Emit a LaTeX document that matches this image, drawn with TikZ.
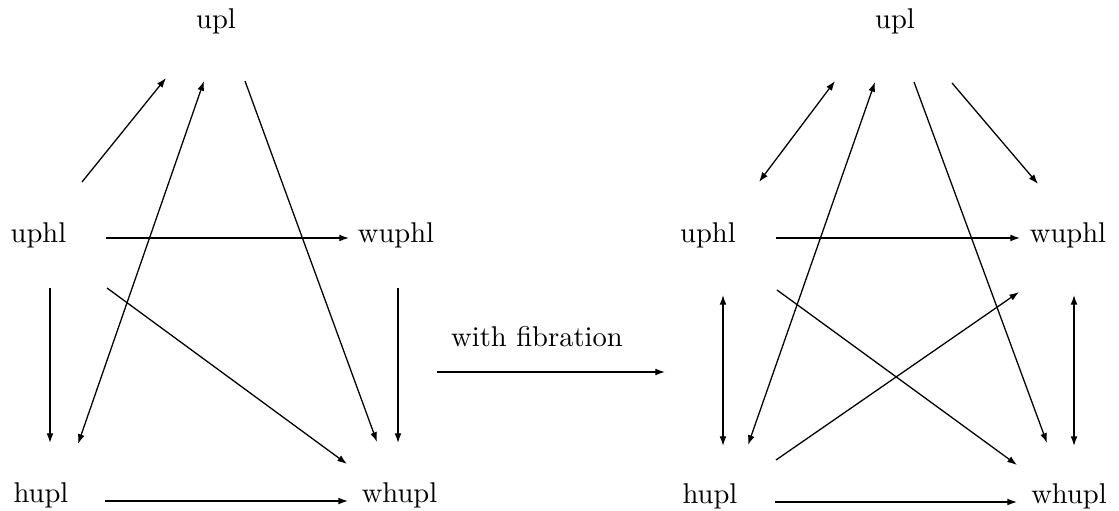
\documentclass[tikz,border=0pt]{standalone}
\usetikzlibrary{arrows.meta}
\begin{document}
\begin{tikzpicture}[x=0.35pt,y=-0.35pt,
  lab/.style={anchor=base,inner sep=0pt,font=\normalsize},
  ar/.style={line width=0.45pt,-{Latex[length=3.4pt,width=2.4pt]}},
  dar/.style={line width=0.45pt,{Latex[length=3.4pt,width=2.4pt]}-{Latex[length=3.4pt,width=2.4pt]}}]
\useasboundingbox (0,0) rectangle (1119,511);

% objects of the left square
\node[lab] (Lupl)   at (216,29)  {upl};
\node[lab] (Luphl)  at (38.5,243) {uphl};
\node[lab] (Lwuphl) at (396,243) {wuphl};
\node[lab] (Lhupl)  at (41,503)  {hupl};
\node[lab] (Lwhupl) at (399.5,503) {whupl};

% objects of the right square
\node[lab] (Rupl)   at (895,29)  {upl};
\node[lab] (Ruphl)  at (708,243) {uphl};
\node[lab] (Rwuphl) at (1068,243) {wuphl};
\node[lab] (Rhupl)  at (710,504) {hupl};
\node[lab] (Rwhupl) at (1069,504) {whupl};

\node[lab] (fib) at (537,347) {with fibration};

% arrow ends, left
\coordinate (l1a) at (82,182);   \coordinate (l1b) at (166,78);
\coordinate (l2a) at (106,238);  \coordinate (l2b) at (349,238);
\coordinate (l3a) at (50,288);   \coordinate (l3b) at (50,443);
\coordinate (l4a) at (78,444);   \coordinate (l4b) at (204,81);
\coordinate (l5a) at (245,81);   \coordinate (l5b) at (377,442);
\coordinate (l6a) at (107,288);  \coordinate (l6b) at (347,464);
\coordinate (l7a) at (398,288);  \coordinate (l7b) at (398,443);
\coordinate (l8a) at (105,501);  \coordinate (l8b) at (348,501);

% arrow ends, middle
\coordinate (ma) at (437,372);   \coordinate (mb) at (665,372);

% arrow ends, right
\coordinate (r1a) at (759,182);  \coordinate (r1b) at (835,81);
\coordinate (r2a) at (952,83);   \coordinate (r2b) at (1038,184);
\coordinate (r3a) at (748,445);  \coordinate (r3b) at (875,82);
\coordinate (r4a) at (914,82);   \coordinate (r4b) at (1047,443);
\coordinate (r5a) at (776,238);  \coordinate (r5b) at (1020,238);
\coordinate (r6a) at (723,295);  \coordinate (r6b) at (723,446);
\coordinate (r7a) at (1074,295); \coordinate (r7b) at (1074,446);
\coordinate (r8a) at (777,290);  \coordinate (r8b) at (1017,465);
\coordinate (r9a) at (776,460);  \coordinate (r9b) at (1019,292);
\coordinate (r10a) at (775,502); \coordinate (r10b) at (1017,502);

% left diagram
\draw[ar]  (l1a) -- (l1b);
\draw[ar]  (l2a) -- (l2b);
\draw[ar]  (l3a) -- (l3b);
\draw[dar] (l4a) -- (l4b);
\draw[ar]  (l5a) -- (l5b);
\draw[ar]  (l6a) -- (l6b);
\draw[ar]  (l7a) -- (l7b);
\draw[ar]  (l8a) -- (l8b);

% passage between the two
\draw[ar] (ma) -- (mb);

% right diagram
\draw[dar] (r1a) -- (r1b);
\draw[ar]  (r2a) -- (r2b);
\draw[dar] (r3a) -- (r3b);
\draw[ar]  (r4a) -- (r4b);
\draw[ar]  (r5a) -- (r5b);
\draw[dar] (r6a) -- (r6b);
\draw[dar] (r7a) -- (r7b);
\draw[ar]  (r8a) -- (r8b);
\draw[ar]  (r9a) -- (r9b);
\draw[ar]  (r10a) -- (r10b);
\end{tikzpicture}
\end{document}
